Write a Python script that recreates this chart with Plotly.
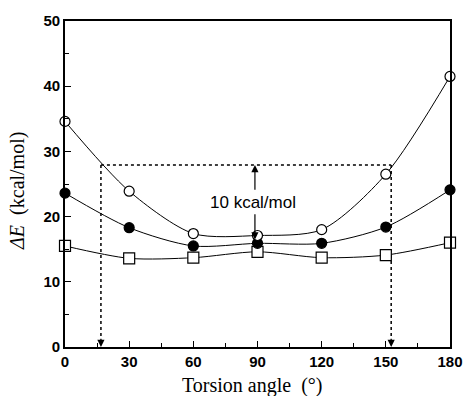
import plotly.graph_objects as go

angles = [0, 30, 60, 90, 120, 150, 180]
open_circles = [34.6, 23.9, 17.4, 17.1, 18.0, 26.5, 41.5]
filled_circles = [23.6, 18.3, 15.5, 15.9, 15.9, 18.4, 24.1]
squares = [15.5, 13.6, 13.7, 14.6, 13.7, 14.1, 16.0]

guide_level = 27.9
guide_left = 16.8
guide_right = 152.5
gap_x = 88.8
gap_low = 16.5
label_text = "10 kcal/mol"
x_title = "Torsion angle  (°)"
y_title = "<i>ΔE</i>  (kcal/mol)"

fig = go.Figure()

def add_series(y, symbol, fill, size):
    fig.add_trace(go.Scatter(
        x=angles, y=y, mode="lines+markers",
        line=dict(color="black", width=1, shape="spline", smoothing=0.8),
        marker=dict(symbol=symbol, size=size, color=fill,
                    line=dict(color="black", width=1.2)),
        showlegend=False, cliponaxis=False,
    ))

add_series(squares, "square", "white", 11)
add_series(filled_circles, "circle", "black", 10)
add_series(open_circles, "circle", "white", 10)

# dotted guide lines
dot = dict(color="black", width=1.5, dash="dot")
fig.add_shape(type="line", x0=guide_left, x1=guide_right, y0=guide_level, y1=guide_level, line=dot, layer="below")
fig.add_shape(type="line", x0=guide_left, x1=guide_left, y0=guide_level, y1=1.2, line=dot, layer="below")
fig.add_shape(type="line", x0=guide_right, x1=guide_right, y0=guide_level, y1=1.2, line=dot, layer="below")

# arrow heads at bottom of dotted lines
for gx in (guide_left, guide_right):
    fig.add_annotation(x=gx, y=0, ax=gx, ay=1.5, xref="x", yref="y", axref="x", ayref="y",
                       showarrow=True, arrowhead=2, arrowsize=1.2, arrowwidth=1.2,
                       arrowcolor="black", text="")

# 10 kcal/mol double arrow
fig.add_annotation(x=gap_x, y=guide_level, ax=gap_x, ay=23.9, xref="x", yref="y", axref="x", ayref="y",
                   showarrow=True, arrowhead=2, arrowsize=1.2, arrowwidth=1.2, arrowcolor="black", text="")
fig.add_annotation(x=gap_x, y=gap_low, ax=gap_x, ay=20.6, xref="x", yref="y", axref="x", ayref="y",
                   showarrow=True, arrowhead=2, arrowsize=1.2, arrowwidth=1.2, arrowcolor="black", text="")
fig.add_annotation(x=88, y=22.1, xref="x", yref="y", text=label_text, showarrow=False,
                   font=dict(family="Liberation Sans, Arial", size=17, color="black"))

# axis titles
fig.add_annotation(x=0.486, y=-0.119, xref="paper", yref="paper", text=x_title, showarrow=False,
                   xanchor="center", yanchor="middle",
                   font=dict(family="Liberation Serif, Times New Roman", size=20, color="black"))
fig.add_annotation(x=-0.122, y=0.479, xref="paper", yref="paper", text=y_title, showarrow=False,
                   xanchor="center", yanchor="middle", textangle=-90,
                   font=dict(family="Liberation Serif, Times New Roman", size=20, color="black"))

fig.update_layout(
    width=475, height=396,
    margin=dict(l=65, r=17, t=19, b=49),
    paper_bgcolor="white", plot_bgcolor="white",
    font=dict(family="Liberation Sans, Arial", color="black"),
)
fig.update_xaxes(
    range=[0, 180], tickvals=[0, 30, 60, 90, 120, 150, 180],
    ticks="inside", ticklen=6, tickwidth=1.2, tickcolor="black",
    minor=dict(tickvals=[15, 45, 75, 105, 135, 165], ticks="inside", ticklen=4, tickcolor="black"),
    showline=True, linecolor="black", linewidth=1.6, mirror=True, showgrid=False, zeroline=False,
    tickfont=dict(family="Liberation Sans, Arial", size=15, weight="bold"),
    ticklabelstandoff=0,
)
fig.update_yaxes(
    range=[0, 50], tickvals=[0, 10, 20, 30, 40, 50],
    ticks="inside", ticklen=6, tickwidth=1.2, tickcolor="black",
    minor=dict(tickvals=[5, 15, 25, 35, 45], ticks="inside", ticklen=4, tickcolor="black"),
    showline=True, linecolor="black", linewidth=1.6, mirror=True, showgrid=False, zeroline=False,
    tickfont=dict(family="Liberation Sans, Arial", size=15, weight="bold"),
)

fig.write_html("out.html")
